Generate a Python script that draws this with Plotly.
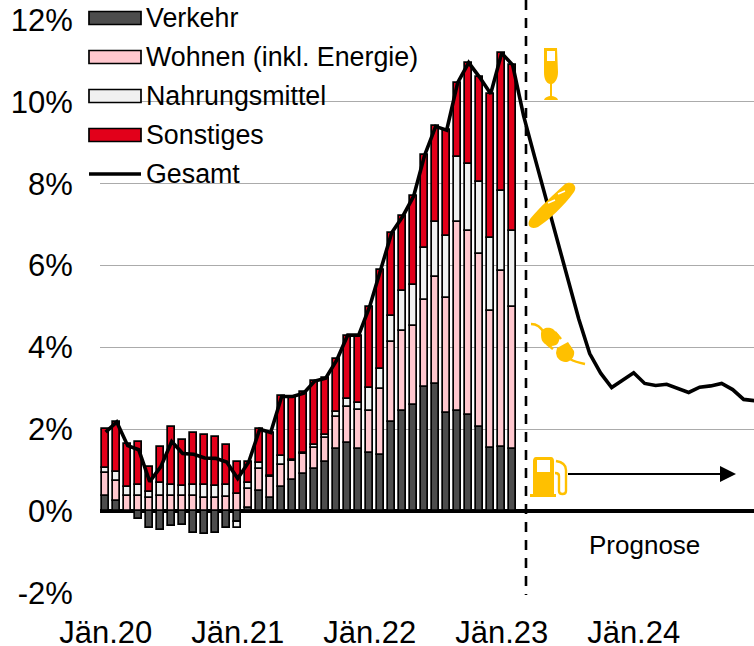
import re
import plotly.graph_objects as go

months = list(range(60))
tick_pos = [0, 12, 24, 36, 48]
tick_labels = ["Jän.20", "Jän.21", "Jän.22", "Jän.23", "Jän.24"]
y_ticks = [-2, 0, 2, 4, 6, 8, 10, 12]
y_labels = ["-2%", "0%", "2%", "4%", "6%", "8%", "10%", "12%"]

verkehr = [.38,.25,-.03,-.2,-.4,-.46,-.37,-.34,-.53,-.56,-.53,-.42,-.26,.07,.5,.31,.6,.76,.9,1.02,1.2,1.53,1.67,1.52,1.43,1.37,2.19,2.45,2.6,3.04,3.1,2.39,2.45,2.35,2.06,1.55,1.57,1.53]
wohnen = [.54,.48,.38,.37,.33,.37,.37,.37,.37,.33,.33,.34,.41,.47,.53,.53,.52,.46,.49,.53,.58,.78,.88,.95,1.01,1.61,1.94,1.96,1.92,2.12,2.61,2.83,4.62,4.5,4.22,3.35,4.3,3.45]
nahrung = [.14,.22,.22,.28,.14,.31,.28,.24,.28,.30,.29,.31,-.16,.15,.14,.02,.22,.02,.02,.06,.09,.12,.18,.18,.56,.49,.65,.96,1.01,1.28,1.36,1.5,1.58,1.63,1.75,1.78,1.94,1.87]
sonstiges = [.94,1.23,1.04,1.05,.61,.88,1.41,1.12,1.27,1.22,1.19,.96,.79,.51,.83,1.04,1.47,1.56,1.51,1.57,1.38,1.28,1.56,1.64,2.0,2.43,2.02,1.83,2.17,2.26,2.33,2.59,1.82,2.48,2.57,3.52,3.38,4.05]
gesamt = [1.93,2.18,1.6,1.5,.72,1.08,1.7,1.41,1.39,1.3,1.29,1.2,.8,1.2,2.0,1.92,2.8,2.8,2.88,3.18,3.25,3.69,4.3,4.3,5.0,5.9,6.8,7.2,7.7,8.7,9.4,9.31,10.47,10.96,10.6,10.2,11.19,10.9,9.65,8.65,7.65,6.65,5.65,4.7,3.85,3.37,3.02,3.2,3.38,3.12,3.07,3.1,3.0,2.9,3.03,3.06,3.12,2.97,2.73,2.7]

names = ["Verkehr", "Wohnen (inkl. Energie)", "Nahrungsmittel", "Sonstiges", "Gesamt"]
colors = ["#4D4D4D", "#FFC7CE", "#F0F0F0", "#E2001A"]
AMBER = "#FFC000"
FONT = "Liberation Sans"

W, H = 754, 646
L, T, R, B = 100, 20, 754, 593


def px(x, y):
    return (x - L) / (R - L), 1 - (y - T) / (B - T)


def path(s):
    out, pair = [], []
    for tok in re.findall(r"[A-Za-z]|-?[\d.]+", s):
        if tok.isalpha():
            out.append(tok)
        else:
            pair.append(float(tok))
            if len(pair) == 2:
                a, b = px(*pair)
                out.append(f"{a:.5f},{b:.5f}")
                pair = []
    return " ".join(out)


def fill(s, color=AMBER):
    return dict(type="path", xref="paper", yref="paper", path=path(s), fillcolor=color,
                line=dict(width=0), layer="above")


def stroke(s, color=AMBER, width=2.0):
    return dict(type="path", xref="paper", yref="paper", path=path(s),
                fillcolor="rgba(0,0,0,0)", line=dict(color=color, width=width), layer="above")


fig = go.Figure()
for vals, name, col in zip([verkehr, wohnen, nahrung, sonstiges], names, colors):
    fig.add_bar(x=months[:len(vals)], y=vals, name=name, width=0.62, marker=dict(color=col, line=dict(color="#000000", width=1.7)), showlegend=False)
fig.add_scatter(x=months, y=gesamt, mode="lines", name=names[4], line=dict(color="#000000", width=3.6), showlegend=False)

shapes = []
annotations = []
# legend
legend_rows = [18, 57, 96, 135, 174]
for i, (row, name) in enumerate(zip(legend_rows, names)):
    if i < 4:
        x0, y0 = px(89, row - 6.5)
        x1, y1 = px(141, row + 6.5)
        shapes.append(dict(type="rect", xref="paper", yref="paper", x0=x0, x1=x1, y0=y0, y1=y1,
                           fillcolor=colors[i], line=dict(color="#000000", width=1.7), layer="above"))
    else:
        x0, y0 = px(89, row)
        x1, _ = px(141, row)
        shapes.append(dict(type="line", xref="paper", yref="paper", x0=x0, x1=x1, y0=y0, y1=y0,
                           line=dict(color="#000000", width=3.6), layer="above"))
    ax, ay = px(144, row)
    annotations.append(dict(xref="paper", yref="paper", x=ax, y=ay, text=name, showarrow=False,
                            xanchor="left", yanchor="middle",
                            font=dict(family=FONT, size=26.8, color="#000000")))

# forecast divider
x0, y0 = px(526, 0)
x1, y1 = px(526, 595)
shapes.append(dict(type="line", xref="paper", yref="paper", x0=x0, x1=x1, y0=y0, y1=y1,
                   line=dict(color="#000000", width=2.6, dash="10px,8px"), layer="above"))
ax, ay = px(644, 545)
annotations.append(dict(xref="paper", yref="paper", x=ax, y=ay, text="Prognose", showarrow=False,
                        xanchor="center", yanchor="middle", font=dict(family=FONT, size=26, color="#000000")))

# champagne glass
shapes.append(fill("M 544 48 L 557 48 L 558 72 C 558 79 555 83 552 84 L 552 96 C 555 97 557 97 558 100 L 544 100 C 545 97 547 97 550 96 L 550 84 C 546 83 544 79 544 72 Z"))
shapes.append(fill("M 547 51 L 555 51 L 555 61 L 547 61 Z", "#FFFFFF"))
# baguette
shapes.append(fill("M 530 219 C 540 207 553 195 565 184 C 572 180 578 186 574 192 C 564 206 550 219 538 227 C 531 230 526 226 530 219 Z"))
shapes.append(stroke("M 548 203 L 555 200", "#FFFFFF", 1.5))
shapes.append(stroke("M 558 194 L 565 191", "#FFFFFF", 1.5))
# plug: two rounded halves with prongs and cords
shapes.append(fill("M 541 333 C 542 327 549 327 553 329 L 559 335 C 560 339 559 343 556 345 C 551 347 546 346 543 342 C 541 340 541 336 541 333 Z"))
shapes.append(fill("M 557 348 L 568 342 L 574 351 C 575 356 572 360 567 362 C 562 362 559 360 557 357 L 556 353 Z"))
shapes.append(stroke("M 531 324 C 537 324 541 327 544 333", AMBER, 2.6))
shapes.append(stroke("M 555 332 L 561 339", AMBER, 2.6))
shapes.append(stroke("M 547 344 L 553 349", AMBER, 2.6))
shapes.append(stroke("M 570 359 C 575 362 580 363 585 364", AMBER, 2.6))
# fuel pump
shapes.append(fill("M 536 457 L 551 457 C 553 457 554 459 554 461 L 554 494 L 556 494 L 556 497 L 530 497 L 530 494 L 533 494 L 533 461 C 533 459 534 457 536 457 Z"))
shapes.append(fill("M 537 460 L 550 460 L 550 472 L 537 472 Z", "#FFFFFF"))
shapes.append(stroke("M 556 461 C 562 462 566 465 566 470 L 566 491 C 566 495 559 495 559 491 L 559 476 C 559 474 557 473 555 473", AMBER, 2.4))
# fuel price arrow
x0, y0 = px(568, 474)
x1, y1 = px(722, 474)
shapes.append(dict(type="line", xref="paper", yref="paper", x0=x0, x1=x1, y0=y0, y1=y1,
                   line=dict(color="#000000", width=2), layer="above"))
shapes.append(fill("M 720 466 L 736 474 L 720 482 Z", "#000000"))

fig.update_layout(
    width=W, height=H, margin=dict(l=L, r=W - R, t=T, b=H - B, autoexpand=False),
    paper_bgcolor="#FFFFFF", plot_bgcolor="#FFFFFF", barmode="relative", bargap=0,
    shapes=shapes, annotations=annotations,
    font=dict(family=FONT, color="#000000"),
    xaxis=dict(range=[-0.52, 58.94], tickmode="array", tickvals=tick_pos, ticktext=tick_labels,
               ticks="outside", ticklen=12, tickcolor="rgba(0,0,0,0)", tickfont=dict(size=31),
               showgrid=False, zeroline=False, showline=False),
    yaxis=dict(range=[-2, 12], tickmode="array", tickvals=y_ticks, ticktext=y_labels,
               ticks="outside", ticklen=20, tickcolor="rgba(0,0,0,0)", tickfont=dict(size=31),
               showgrid=True, gridcolor="#ABABAB", gridwidth=1.2,
               zeroline=True, zerolinecolor="#000000", zerolinewidth=3.8, showline=False),
)

fig.write_html("out.html", post_script="document.body.style.margin='0';document.body.style.overflow='hidden';",
               config={"displayModeBar": False})
